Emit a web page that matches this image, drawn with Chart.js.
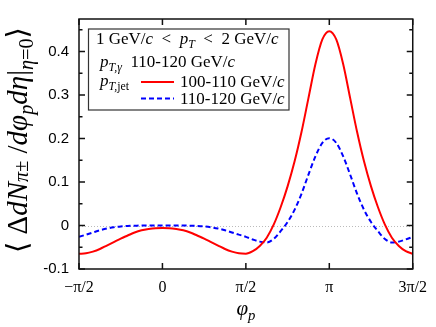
<!DOCTYPE html>
<html>
<head>
<meta charset="utf-8">
<script src="https://cdn.jsdelivr.net/npm/chart.js@4.4.1/dist/chart.umd.min.js"></script>
<style>
  html, body { margin: 0; padding: 0; background: #fff; }
</style>
</head>
<body>
<canvas id="chart" width="436" height="327"></canvas>
<script>
// phi_p in degrees (-pi/2 .. 3pi/2), tick values/labels
const phiDeg = [-90, -82.5, -75, -67.5, -60, -52.5, -45, -37.5, -30, -22.5, -15, -7.5,
  0, 7.5, 15, 22.5, 30, 37.5, 45, 52.5, 60, 67.5, 75, 82.5,
  90, 97.5, 105, 112.5, 120, 127.5, 135, 142.5, 150, 157.5, 165, 172.5,
  180, 187.5, 195, 202.5, 210, 217.5, 225, 232.5, 240, 247.5, 255, 262.5, 270];
const xTickVals = [-90, 0, 90, 180, 270];
const xTickLabels = ['\u2212\u03c0/2', '0', '\u03c0/2', '\u03c0', '3\u03c0/2'];
const yTickVals = [-0.1, 0, 0.1, 0.2, 0.3, 0.4];
const yMinorVals = [-0.05, 0.05, 0.15, 0.25, 0.35, 0.45];

// jet pT bins (GeV/c)
const jetBins = ['100-110', '110-120'];
const jet100 = [-0.065, -0.064, -0.060, -0.054, -0.046, -0.038, -0.030, -0.023, -0.016, -0.011, -0.008, -0.006,
  -0.0055, -0.006, -0.008, -0.011, -0.016, -0.023, -0.030, -0.038, -0.046, -0.054, -0.060, -0.064,
  -0.065, -0.059, -0.047, -0.028, 0.002, 0.042, 0.090, 0.147, 0.215, 0.293, 0.371, 0.428,
  0.447, 0.428, 0.371, 0.293, 0.215, 0.147, 0.090, 0.042, 0.002, -0.028, -0.047, -0.059, -0.065];
const jet110 = [-0.026, -0.021, -0.016, -0.011, -0.007, -0.004, -0.002, -0.001, -0.0005, 0, 0, 0,
  0, 0, 0, 0, -0.0005, -0.001, -0.002, -0.004, -0.007, -0.011, -0.016, -0.021,
  -0.026, -0.032, -0.037, -0.039, -0.031, -0.013, 0.008, 0.036, 0.073, 0.117, 0.159, 0.190,
  0.201, 0.190, 0.159, 0.117, 0.073, 0.036, 0.008, -0.013, -0.031, -0.039, -0.037, -0.032, -0.026];

const SERIF = '"Liberation Serif", "DejaVu Serif", serif';
const SANS = '"Liberation Sans", Arial, sans-serif';

// text pieces (it = italic, sub = subscript)
const headerText = [{t: '1 GeV/'}, {t: 'c', it: 1}, {t: '  <  '}, {t: 'p', it: 1}, {t: 'T', it: 1, sub: 1},
  {t: '  <  2 GeV/'}, {t: 'c', it: 1}];
const photonText = [{t: 'p', it: 1}, {t: 'T,\u03b3', it: 1, sub: 1}, {t: '  110-120 GeV/'}, {t: 'c', it: 1}];
const jetText = [{t: 'p', it: 1}, {t: 'T,', it: 1, sub: 1}, {t: 'jet', sub: 1}];
const xTitle = [{t: '\u03c6', it: 1}, {t: 'p', it: 1, sub: 1}];
const yTitle = [{t: '\u27e8 \u0394'}, {t: 'dN', it: 1}, {t: '\u03c0', it: 1, sup: 1}, {t: '\u00b1', sup: 1},
  {t: ' /'}, {t: 'd\u03c6', it: 1}, {t: 'p', it: 1, sub: 1}, {t: 'd\u03b7', it: 1}, {t: '|'},
  {t: '\u03b7', it: 1, sub: 1}, {t: '=0', sub: 1}, {t: '\u27e9'}];

function rich(ctx, segs, x, y, size, draw) {
  let cx = x;
  for (const s of segs) {
    const small = s.sub || s.sup;
    const fs = small ? size * 0.7 : size;
    ctx.font = (s.it ? 'italic ' : '') + fs + 'px ' + SERIF;
    const dy = s.sub ? size * 0.22 : (s.sup ? size * 0.05 : 0);
    if (draw) ctx.fillText(s.t, cx, y + dy);
    cx += ctx.measureText(s.t).width;
  }
  return cx - x;
}

const framePlugin = {
  id: 'frame',
  beforeDatasetsDraw(chart) {
    const {ctx, chartArea: a, scales: {y}} = chart;
    ctx.save();
    ctx.strokeStyle = '#bbb';
    ctx.lineWidth = 1;
    ctx.setLineDash([1, 2]);
    const y0 = Math.round(y.getPixelForValue(0)) + 0.5;
    ctx.beginPath();
    ctx.moveTo(a.left, y0);
    ctx.lineTo(a.right, y0);
    ctx.stroke();
    ctx.restore();
  },
  afterDatasetsDraw(chart) {
    const {ctx, chartArea: a, scales: {x, y}} = chart;
    ctx.save();
    ctx.strokeStyle = '#111';
    ctx.lineWidth = 1.5;
    ctx.strokeRect(a.left, a.top, a.right - a.left, a.bottom - a.top);
    ctx.beginPath();
    xTickVals.forEach(v => {
      const px = x.getPixelForValue(v);
      ctx.moveTo(px, a.bottom); ctx.lineTo(px, a.bottom - 6);
      ctx.moveTo(px, a.top); ctx.lineTo(px, a.top + 6);
    });
    yTickVals.forEach(v => {
      const py = y.getPixelForValue(v);
      ctx.moveTo(a.left, py); ctx.lineTo(a.left + 6, py);
      ctx.moveTo(a.right, py); ctx.lineTo(a.right - 6, py);
    });
    yMinorVals.forEach(v => {
      const py = y.getPixelForValue(v);
      ctx.moveTo(a.left, py); ctx.lineTo(a.left + 3.5, py);
      ctx.moveTo(a.right, py); ctx.lineTo(a.right - 3.5, py);
    });
    ctx.stroke();
    ctx.restore();
  },
  afterDraw(chart) {
    const {ctx, chartArea: a, data} = chart;
    ctx.save();
    ctx.fillStyle = '#000';
    ctx.textBaseline = 'alphabetic';
    ctx.textAlign = 'left';

    // legend box
    ctx.fillStyle = '#fff';
    ctx.fillRect(88.5, 29, 200.5, 81);
    ctx.strokeStyle = '#333';
    ctx.lineWidth = 1.2;
    ctx.strokeRect(88.5, 29, 200.5, 81);
    ctx.fillStyle = '#000';
    rich(ctx, headerText, 96, 44, 17, true);
    rich(ctx, photonText, 100, 67, 17, true);
    rich(ctx, jetText, 100, 86, 17, true);
    const rows = [82, 98.5];
    data.datasets.forEach((ds, i) => {
      ctx.strokeStyle = ds.borderColor;
      ctx.lineWidth = ds.borderWidth;
      ctx.setLineDash(ds.borderDash || []);
      ctx.beginPath();
      ctx.moveTo(141, rows[i]);
      ctx.lineTo(174, rows[i]);
      ctx.stroke();
      ctx.setLineDash([]);
      rich(ctx, [{t: ds.label + ' GeV/'}, {t: 'c', it: 1}], 180, rows[i] + 5, 17, true);
    });

    // x title
    const xw = rich(ctx, xTitle, 0, 0, 21, false);
    rich(ctx, xTitle, (a.left + a.right) / 2 - xw / 2, 315, 21, true);

    // y title (rotated)
    const target = 226;
    const w0 = rich(ctx, yTitle, 0, 0, 20, false);
    const ys = 20 * target / w0;
    ctx.translate(27, 140);
    ctx.rotate(-Math.PI / 2);
    rich(ctx, yTitle, -target / 2, 0, ys, true);
    ctx.restore();
  }
};

const ctx = document.getElementById('chart').getContext('2d');
new Chart(ctx, {
  type: 'line',
  data: {
    datasets: [
      {
        label: jetBins[0],
        data: phiDeg.map((p, i) => ({x: p, y: jet100[i]})),
        borderColor: '#ff0000',
        borderWidth: 2,
        pointRadius: 0,
        cubicInterpolationMode: 'monotone',
        fill: false
      },
      {
        label: jetBins[1],
        data: phiDeg.map((p, i) => ({x: p, y: jet110[i]})),
        borderColor: '#0000ff',
        borderWidth: 2,
        borderDash: [5, 3],
        pointRadius: 0,
        cubicInterpolationMode: 'monotone',
        fill: false
      }
    ]
  },
  options: {
    responsive: false,
    animation: false,
    devicePixelRatio: 1,
    layout: {padding: {top: 19, right: 16, left: 0, bottom: 0}},
    plugins: {legend: {display: false}, tooltip: {enabled: false}},
    scales: {
      x: {
        type: 'linear',
        min: -90,
        max: 270,
        afterBuildTicks: s => { s.ticks = xTickVals.map(v => ({value: v})); },
        afterFit: s => { s.height = 58; },
        grid: {display: false, drawTicks: false},
        border: {display: false},
        ticks: {
          callback: v => xTickLabels[xTickVals.indexOf(v)],
          font: {family: SERIF, size: 16},
          color: '#000',
          padding: 9,
          maxRotation: 0,
          autoSkip: false
        }
      },
      y: {
        type: 'linear',
        min: -0.1,
        max: 0.475,
        afterBuildTicks: s => { s.ticks = yTickVals.map(v => ({value: v})); },
        afterFit: s => { s.width = 79; },
        grid: {display: false, drawTicks: false},
        border: {display: false},
        ticks: {
          callback: v => String(v),
          font: {family: SANS, size: 15},
          color: '#000',
          padding: 10
        }
      }
    }
  },
  plugins: [framePlugin]
});
</script>
</body>
</html>
